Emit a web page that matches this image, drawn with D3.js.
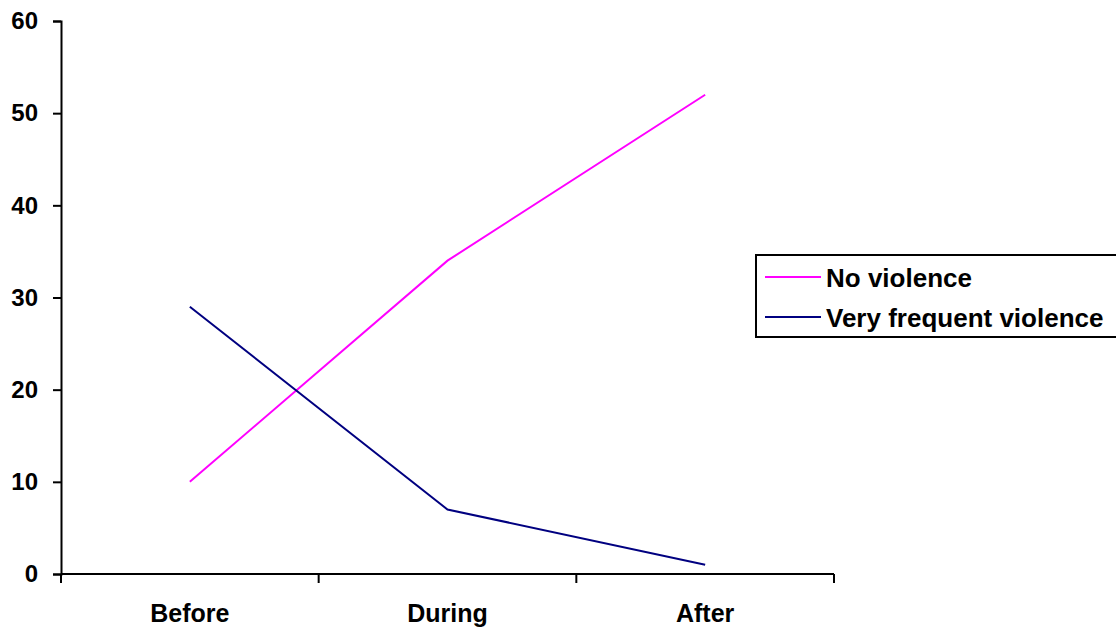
<!DOCTYPE html>
<html>
<head>
<meta charset="utf-8">
<script src="https://cdn.jsdelivr.net/npm/d3@7"></script>
<style>
  html, body { margin: 0; padding: 0; background: #fff; }
  svg { display: block; }
  text { font-family: "Liberation Sans", Arial, sans-serif; font-weight: bold; fill: #000; }
</style>
</head>
<body>
<svg id="chart" width="1116" height="629"></svg>
<script>
const categories = ["Before", "During", "After"];
const noViolence = [10, 34, 52];
const veryFrequentViolence = [29, 7, 1];
const yTicks = [0, 10, 20, 30, 40, 50, 60];
const seriesNames = ["No violence", "Very frequent violence"];
const seriesColors = ["#ff00ff", "#000080"];

const svg = d3.select("#chart");
const plotLeft = 61, plotRight = 834, plotTop = 21, plotBottom = 574;

const x = d3.scaleBand().domain(categories).range([plotLeft, plotRight]);
const y = d3.scaleLinear().domain([0, 60]).range([plotBottom, plotTop]);

// y axis
const yAxis = svg.append("g")
  .attr("transform", `translate(${plotLeft},0)`)
  .call(d3.axisLeft(y).tickValues(yTicks).tickSize(8).tickPadding(15));
yAxis.selectAll("text").style("font-size", "24px");
yAxis.select(".domain").attr("stroke-width", 2);
yAxis.selectAll(".tick line").attr("stroke-width", 2);

// x axis with ticks at band boundaries
const xAxisG = svg.append("g").attr("transform", `translate(0,${plotBottom})`);
xAxisG.append("line").attr("x1", plotLeft).attr("x2", plotRight).attr("y1", 0).attr("y2", 0)
  .attr("stroke", "#000").attr("stroke-width", 2);
const bounds = categories.map(c => x(c)).concat([plotRight]);
xAxisG.selectAll("line.tick").data(bounds).join("line")
  .attr("class", "tick")
  .attr("x1", d => d).attr("x2", d => d).attr("y1", 0).attr("y2", 9)
  .attr("stroke", "#000").attr("stroke-width", 2);
xAxisG.selectAll("text.cat").data(categories).join("text")
  .attr("class", "cat")
  .attr("x", d => x(d) + x.bandwidth() / 2)
  .attr("y", 48)
  .attr("text-anchor", "middle")
  .style("font-size", "25px")
  .text(d => d);

// series lines
const line = d3.line()
  .x((d, i) => x(categories[i]) + x.bandwidth() / 2)
  .y(d => y(d));

[noViolence, veryFrequentViolence].forEach((vals, k) => {
  svg.append("path").datum(vals)
    .attr("d", line)
    .attr("fill", "none")
    .attr("stroke", seriesColors[k])
    .attr("stroke-width", 2);
});

// legend
const lg = svg.append("g");
lg.append("rect").attr("x", 756).attr("y", 255).attr("width", 370).attr("height", 82)
  .attr("fill", "#fff").attr("stroke", "#000").attr("stroke-width", 2);
seriesNames.forEach((name, i) => {
  const ly = 277 + i * 40;
  lg.append("line").attr("x1", 765).attr("x2", 821).attr("y1", ly).attr("y2", ly)
    .attr("stroke", seriesColors[i]).attr("stroke-width", 2);
  lg.append("text").attr("x", 826).attr("y", ly + 10).style("font-size", "26px").text(name);
});
</script>
</body>
</html>
